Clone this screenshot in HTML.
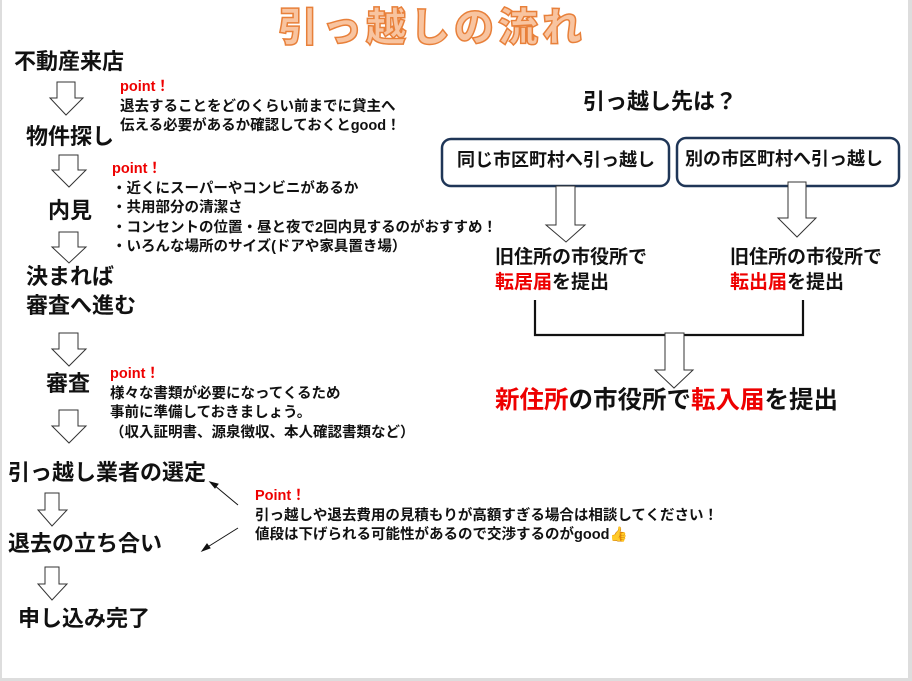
<!DOCTYPE html>
<html><head><meta charset="utf-8"><style>
body{margin:0;width:912px;height:681px;background:#fff;position:relative;overflow:hidden;font-family:"Liberation Sans","Noto Sans CJK JP",sans-serif;font-weight:bold;color:#111}
.t{position:absolute;white-space:nowrap;line-height:1}
.r{color:#e00}
.s{font-size:14.5px;line-height:19.5px}
.h{font-size:22px}
</style></head><body>
<div style="position:absolute;left:0;top:0;width:2px;height:681px;background:#ddd"></div>
<div style="position:absolute;right:0;top:0;width:4px;height:681px;background:#ddd"></div>
<div style="position:absolute;left:0;bottom:0;width:912px;height:3px;background:#ddd"></div>

<div class="t" style="left:278px;top:4px;font-size:40px;color:#f8c4a0;-webkit-text-stroke:1.5px #e8803a;letter-spacing:4px;font-family:'Noto Sans CJK JP',sans-serif;font-weight:900">引っ越しの流れ</div>

<svg width="912" height="681" style="position:absolute;left:0;top:0" fill="#fff" stroke="#333" stroke-width="1">
<path d="M57 82H75V98H83L66 115L50 98H57Z"/>
<path d="M59 155H78V170H86L69 187L52 170H59Z"/>
<path d="M59 232H78V247H86L69 263L52 247H59Z"/>
<path d="M59 333H78V349H86L69 366L52 349H59Z"/>
<path d="M59 410H78V426H86L69 443L52 426H59Z"/>
<path d="M45 493H59V510H67L52 526L38 510H45Z"/>
<path d="M45 567H59V584H67L52 600L38 584H45Z"/>
<rect x="442" y="139" width="227" height="47" rx="9" stroke="#1f3657" stroke-width="2.5"/>
<rect x="677" y="138" width="222" height="48" rx="9" stroke="#1f3657" stroke-width="2.5"/>
<path d="M556 186H575V225H585L566 242L546 225H556Z"/>
<path d="M788 182H806V218H816L797 237L778 218H788Z"/>
<path d="M535 300V335H803V300" fill="none" stroke="#111" stroke-width="2.2"/>
<path d="M665 333H684V370H693L674 388L655 370H665Z"/>
<g stroke="#111" fill="#111">
<line x1="238" y1="505" x2="214" y2="485"/><path d="M210 482L218 484L215 488Z"/>
<line x1="238" y1="528" x2="206" y2="548"/><path d="M202 551L207 544L210 548Z"/>
</g>
</svg>

<div class="t h" style="left:14px;top:51px">不動産来店</div>
<div class="t h" style="left:26px;top:126px">物件探し</div>
<div class="t h" style="left:48px;top:200px">内見</div>
<div class="t h" style="left:26px;top:266px">決まれば</div>
<div class="t h" style="left:26px;top:295px">審査へ進む</div>
<div class="t h" style="left:46px;top:373px">審査</div>
<div class="t h" style="left:8px;top:462px">引っ越し業者の選定</div>
<div class="t h" style="left:8px;top:533px">退去の立ち合い</div>
<div class="t h" style="left:18px;top:608px">申し込み完了</div>

<div class="t s" style="left:120px;top:78px"><span class="r">point！</span><br>退去することをどのくらい前までに貸主へ<br>伝える必要があるか確認しておくとgood！</div>
<div class="t s" style="left:112px;top:160px"><span class="r">point！</span><br>・近くにスーパーやコンビニがあるか<br>・共用部分の清潔さ<br>・コンセントの位置・昼と夜で2回内見するのがおすすめ！<br>・いろんな場所のサイズ(ドアや家具置き場）</div>
<div class="t s" style="left:110px;top:365px"><span class="r">point！</span><br>様々な書類が必要になってくるため<br>事前に準備しておきましょう。<br>（収入証明書、源泉徴収、本人確認書類など）</div>
<div class="t s" style="left:255px;top:487px"><span class="r">Point！</span><br>引っ越しや退去費用の見積もりが高額すぎる場合は相談してください！<br>値段は下げられる可能性があるので交渉するのがgood<span style="color:#f0a030">👍</span></div>

<div class="t h" style="left:583px;top:91px">引っ越し先は？</div>
<div class="t" style="left:457px;top:151px;font-size:18px">同じ市区町村へ引っ越し</div>
<div class="t" style="left:685px;top:150px;font-size:18px">別の市区町村へ引っ越し</div>
<div class="t" style="left:495px;top:245px;font-size:19px;line-height:25px">旧住所の市役所で<br><span class="r">転居届</span>を提出</div>
<div class="t" style="left:730px;top:245px;font-size:19px;line-height:25px">旧住所の市役所で<br><span class="r">転出届</span>を提出</div>
<div class="t" style="left:495px;top:389px;font-size:24.5px"><span class="r">新住所</span>の市役所で<span class="r">転入届</span>を提出</div>
</body></html>
